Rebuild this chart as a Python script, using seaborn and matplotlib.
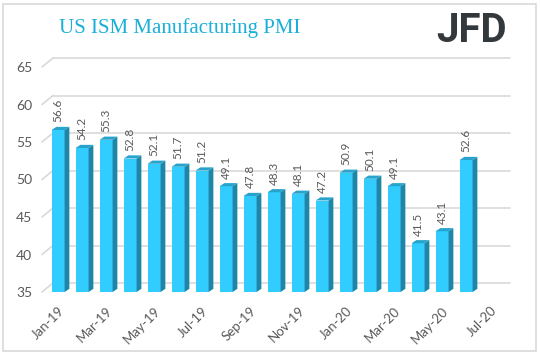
import matplotlib
matplotlib.use("Agg")
import matplotlib.pyplot as plt
import seaborn as sns
from matplotlib.patches import Polygon, Rectangle
from matplotlib.lines import Line2D

months = ["Jan-19", "Feb-19", "Mar-19", "Apr-19", "May-19", "Jun-19", "Jul-19", "Aug-19",
          "Sep-19", "Oct-19", "Nov-19", "Dec-19", "Jan-20", "Feb-20", "Mar-20", "Apr-20",
          "May-20", "Jun-20"]
values = [56.6, 54.2, 55.3, 52.8, 52.1, 51.7, 51.2, 49.1, 47.8, 48.3, 48.1, 47.2,
          50.9, 50.1, 49.1, 41.5, 43.1, 52.6]
tick_labels = ["Jan-19", "Mar-19", "May-19", "Jul-19", "Sep-19", "Nov-19",
               "Jan-20", "Mar-20", "May-20", "Jul-20"]
y_ticks = [35, 40, 45, 50, 55, 60, 65]
title = "US ISM Manufacturing PMI"

FRONT = "#33CCFF"
SIDE = "#1F86A8"
TOP = "#27A3CC"
GRID = "#D9D9D9"
TXT = "#595959"

sns.set_theme(style="white")
plt.rcParams["font.family"] = ["Lato", "DejaVu Sans"]

fig = plt.figure(figsize=(5.4, 3.55), dpi=100)
W, H = 540, 355
ax = fig.add_axes([42 / W, 1 - 292 / H, (510 - 42) / W, (292 - 67) / H])

sns.barplot(x=months, y=values, color=FRONT, width=0.54, saturation=1, ax=ax,
            edgecolor="none", zorder=3)

xl, xr = -0.67, 18.83
ax.set_xlim(xl, xr)
ax.set_ylim(35, 65)
dx, dy = 0.2, 0.42

for p, v in zip(ax.patches, values):
    x0 = p.get_x()
    x1 = x0 + p.get_width()
    b = 35
    side = Polygon([(x1, b), (x1 + dx, b + dy), (x1 + dx, v + dy), (x1, v)],
                   closed=True, facecolor=SIDE, edgecolor="none", zorder=3)
    top = Polygon([(x0, v), (x0 + dx, v + dy), (x1 + dx, v + dy), (x1, v)],
                  closed=True, facecolor=TOP, edgecolor="none", zorder=3)
    ax.add_patch(side)
    ax.add_patch(top)
    ax.text((x0 + x1) / 2, v + dy + 0.6, f"{v:.1f}", rotation=90, ha="center",
            va="bottom", fontsize=8.5, color=TXT, zorder=4)

# back-wall gridlines with 3D offset
bx = xl + 11 / 24
bdy = 1.2
for t in y_ticks:
    ax.add_line(Line2D([bx, xr], [t + bdy, t + bdy], color=GRID, lw=1.2,
                       zorder=1, clip_on=False))
    ax.add_line(Line2D([xl, bx], [t, t + bdy], color=GRID, lw=1.2,
                       zorder=1, clip_on=False))

ax.set_yticks(y_ticks)
ax.set_yticklabels([str(t) for t in y_ticks], fontsize=10, color=TXT)
ax.set_xticks(list(range(0, 2 * len(tick_labels), 2)))
ax.set_xticklabels(tick_labels, rotation=45, ha="right", rotation_mode="anchor",
                   fontsize=9.5, color=TXT)
ax.tick_params(axis="both", length=0)
ax.tick_params(axis="y", pad=7)
ax.tick_params(axis="x", pad=9)
for s in ax.spines.values():
    s.set_visible(False)
ax.set_facecolor("none")
ax.grid(False)
ax.set_xlabel("")
ax.set_ylabel("")

fig.text(59 / W, 1 - 28 / H, title, fontsize=15, color="#1AAFD8",
         family=["Liberation Serif", "DejaVu Serif"], ha="left", va="center")
fig.text(507 / W, 1 - 31 / H, "JFD", fontsize=29, fontweight="bold", color="#33383D",
         family=["Roboto", "DejaVu Sans"], ha="right", va="center")

fig.patches.append(Rectangle((3 / W, 4 / H), 533 / W, 347 / H, transform=fig.transFigure,
                             fill=False, edgecolor="#D9D9D9", lw=1.2))

fig.savefig("out.png", dpi=100)
